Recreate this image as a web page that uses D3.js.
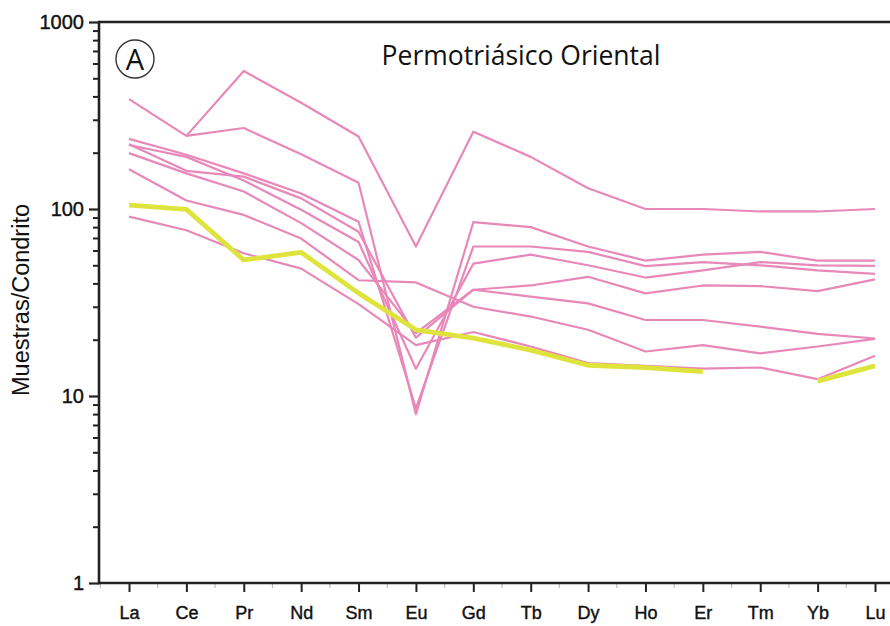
<!DOCTYPE html>
<html><head><meta charset="utf-8">
<script src="https://cdn.jsdelivr.net/npm/d3@7"></script>
<style>body{margin:0;background:#fff;}svg{display:block;}</style>
</head><body>
<svg id="chart" width="890" height="626"></svg>
<script>
const elements = ["La","Ce","Pr","Nd","Sm","Eu","Gd","Tb","Dy","Ho","Er","Tm","Yb","Lu"];
const yTickValues = [1, 10, 100, 1000];
const yTickLabels = ["1", "10", "100", "1000"];
const title = "Permotriásico Oriental";
const panelLabel = "A";
const yTitle = "Muestras/Condrito";

// pink samples
const sample1 = [387, 246, 547, 370, 244, 63, 259, 190, 129, 100, 100, 97, 97, 100];
const sample2 = [null, 246, 271, 196, 138, 8.0, 85, 80, 63, 53, 57, 59, 53, 53];
const sample3 = [237, 195, 155, 121, 85.5, 8.6, 63, 63, 59, 49.5, 52, 50, 47, 45];
const sample4 = [220, 190, 142, 99, 66.6, 14, 51, 57, 50, 43, 47, 52, 50, 49.6];
const sample5 = [199, 155, 124, 84, 53.4, 21.7, 37, 39, 43.4, 35.4, 39, 38.7, 36.4, 42];
const sample6 = [222, 160, 149, 114, 75.5, 20.5, 37, 34, 31.3, 25.5, 25.5, 23.5, 21.5, 20.3];
const sample7 = [163, 111, 93, 69.5, 41.6, 40.5, 30, 26.6, 22.6, 17.3, 18.7, 16.9, 18.4, 20.2];
const sample8 = [91, 77, 58, 48, 31, 18.7, 22, 18.4, 15, 14.5, 14, 14.2, 12.3, 16.4];
// highlighted (yellow) sample
const sampleYellow = [105, 99.6, 53.4, 58.6, 35.5, 22.6, 20.4, 17.6, 14.6, 14.2, 13.5, null, 12, 14.5];

const pinkSeries = [sample1, sample2, sample3, sample4, sample5, sample6, sample7, sample8];

(function () {
const mLeft = 99, mRight = 890, mTop = 22, mBottom = 583;
const svg = d3.select("#chart");

const x = d3.scalePoint().domain(elements).range([mLeft + 30, mRight - 15]);
const y = d3.scaleLog().domain([1, 1000]).range([mBottom, mTop]);

const font = "'Liberation Sans', Arial, sans-serif";

const line = d3.line()
  .defined(d => d.v != null)
  .x(d => x(d.e))
  .y(d => y(d.v));

const toPts = arr => arr.map((v, i) => ({e: elements[i], v: v}));

svg.append("g").selectAll("path").data(pinkSeries).join("path")
  .attr("d", s => line(toPts(s)))
  .attr("fill", "none")
  .attr("stroke", "#e888b9")
  .attr("stroke-width", 2.2)
  .attr("stroke-linejoin", "round");

svg.append("path")
  .attr("d", line(toPts(sampleYellow)))
  .attr("fill", "none")
  .attr("stroke", "#dfe43c")
  .attr("stroke-width", 4.8)
  .attr("stroke-linejoin", "round");

// y axis minor ticks
const minor = [];
for (let d = 1; d < 1000; d *= 10) for (let k = 2; k <= 9; k++) minor.push(d * k);
svg.append("g").attr("transform", `translate(${mLeft},0)`)
  .call(d3.axisLeft(y).tickValues(minor).tickSize(6).tickFormat(""))
  .call(g => g.select(".domain").remove())
  .selectAll("line").attr("stroke", "#222").attr("stroke-width", 2);

const yAxis = svg.append("g").attr("transform", `translate(${mLeft},0)`)
  .call(d3.axisLeft(y).tickValues(yTickValues).tickSize(10).tickPadding(5)
    .tickFormat((d, i) => yTickLabels[i]));
yAxis.select(".domain").remove();
yAxis.selectAll("line").attr("stroke", "#222").attr("stroke-width", 2.2);
yAxis.selectAll("text").attr("font-family", font).attr("font-size", 20)
  .attr("fill", "#111").attr("stroke", "#111").attr("stroke-width", 0.4);

// x axis
const xAxis = svg.append("g").attr("transform", `translate(0,${mBottom})`)
  .call(d3.axisBottom(x).tickSize(9).tickPadding(14));
xAxis.select(".domain").remove();
xAxis.selectAll("line").attr("stroke", "#222").attr("stroke-width", 2);
xAxis.selectAll("text").attr("font-family", font).attr("font-size", 18)
  .attr("fill", "#111").attr("stroke", "#111").attr("stroke-width", 0.4);

// minor x ticks halfway between categories
const step = x.step();
const mids = [x(elements[0]) - step / 2].concat(elements.slice(0, -1).map(e => x(e) + step / 2));
svg.append("g").selectAll("line").data(mids).join("line")
  .attr("x1", d => d).attr("x2", d => d)
  .attr("y1", mBottom).attr("y2", mBottom + 5)
  .attr("stroke", "#bbb").attr("stroke-width", 1.2);

// frame lines
svg.append("line").attr("x1", mLeft).attr("x2", mRight).attr("y1", mTop).attr("y2", mTop)
  .attr("stroke", "#222").attr("stroke-width", 2.6);
svg.append("line").attr("x1", mLeft).attr("x2", mRight).attr("y1", mBottom).attr("y2", mBottom)
  .attr("stroke", "#222").attr("stroke-width", 2.6);
svg.append("line").attr("x1", mLeft).attr("x2", mLeft).attr("y1", mTop - 1.3).attr("y2", mBottom + 1.3)
  .attr("stroke", "#222").attr("stroke-width", 2.6);

// y title
svg.append("text")
  .attr("transform", `translate(29,300) rotate(-90)`)
  .attr("text-anchor", "middle")
  .attr("font-family", font).attr("font-size", 23.5).attr("fill", "#111")
  .text(yTitle);

// title
svg.append("text")
  .attr("x", 521).attr("y", 65)
  .attr("text-anchor", "middle")
  .attr("font-family", "'Open Sans', 'Noto Sans', sans-serif").attr("font-size", 26.5).attr("fill", "#111")
  .text(title);

// panel label
svg.append("circle").attr("cx", 135).attr("cy", 59).attr("r", 19)
  .attr("fill", "none").attr("stroke", "#333").attr("stroke-width", 1.4);
svg.append("text").attr("x", 135).attr("y", 69.5)
  .attr("text-anchor", "middle")
  .attr("font-family", "'Open Sans', 'Noto Sans', sans-serif").attr("font-size", 29).attr("fill", "#111")
  .text(panelLabel);
})();
</script>
</body></html>
